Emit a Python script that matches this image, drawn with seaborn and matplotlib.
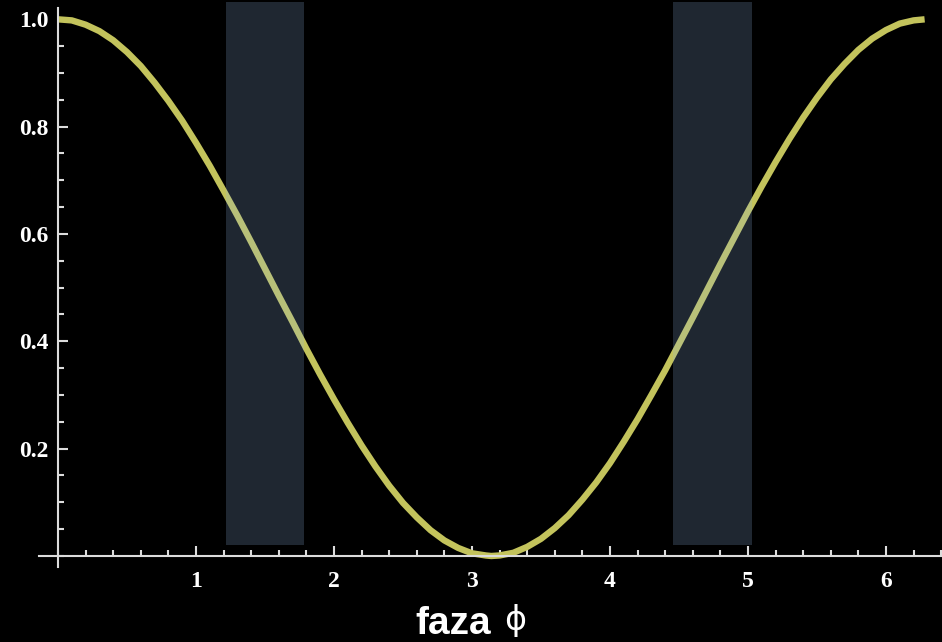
import numpy as np
import pandas as pd
import seaborn as sns
import matplotlib
matplotlib.use("Agg")
import matplotlib.pyplot as plt
from matplotlib.ticker import MultipleLocator, FixedLocator

# ---- data ----
phase = [0.0, 0.1, 0.2, 0.3, 0.4, 0.5, 0.6, 0.7, 0.8, 0.9, 1.0, 1.1, 1.2,
         1.3, 1.4, 1.5, 1.6, 1.7, 1.8, 1.9, 2.0, 2.1, 2.2, 2.3, 2.4, 2.5,
         2.6, 2.7, 2.8, 2.9, 3.0, 3.1, 3.14, 3.2, 3.3, 3.4, 3.5, 3.6, 3.7,
         3.8, 3.9, 4.0, 4.1, 4.2, 4.3, 4.4, 4.5, 4.6, 4.7, 4.8, 4.9, 5.0,
         5.1, 5.2, 5.3, 5.4, 5.5, 5.6, 5.7, 5.8, 5.9, 6.0, 6.1, 6.2, 6.28]
signal = [1.0, 0.998, 0.990, 0.978, 0.961, 0.939, 0.913, 0.882, 0.848,
          0.811, 0.770, 0.727, 0.681, 0.634, 0.585, 0.535, 0.485, 0.436,
          0.386, 0.338, 0.292, 0.248, 0.206, 0.167, 0.131, 0.099, 0.072,
          0.048, 0.029, 0.015, 0.005, 0.001, 0.0, 0.001, 0.006, 0.017,
          0.032, 0.052, 0.076, 0.105, 0.137, 0.173, 0.213, 0.255, 0.300,
          0.346, 0.395, 0.444, 0.494, 0.544, 0.593, 0.642, 0.689, 0.734,
          0.777, 0.817, 0.854, 0.888, 0.917, 0.943, 0.964, 0.980, 0.992,
          0.998, 1.0]
band_start = [1.22, 4.46]
band_end = [1.78, 5.03]
band_bottom = 0.02
band_top = 1.032
x_ticks = [1, 2, 3, 4, 5, 6]
x_tick_labels = ["1", "2", "3", "4", "5", "6"]
y_ticks = [0.2, 0.4, 0.6, 0.8, 1.0]
y_tick_labels = ["0.2", "0.4", "0.6", "0.8", "1.0"]

df = pd.DataFrame({"phase": phase, "signal": signal})

sns.set_style("dark")
W, H = 942, 642
fig = plt.figure(figsize=(W / 100, H / 100), dpi=100, facecolor="black")
ax = fig.add_axes([39 / W, (H - 567) / H, (W - 39) / W, 567 / H])
ax.set_facecolor("black")

line_col = "#c3c35c"
axis_col = "#dcdcdc"

sns.lineplot(data=df, x="phase", y="signal", ax=ax, color=line_col,
             linewidth=4.6, solid_capstyle="butt", solid_joinstyle="round",
             zorder=2)

for s, e in zip(band_start, band_end):
    ax.fill_between([s, e], [band_bottom, band_bottom], [band_top, band_top],
                    color="#91b6e3", alpha=0.22, linewidth=0, zorder=3)

ax.set_xlim(-0.1377, 6.406)
ax.set_ylim(-0.0205, 1.036)

for side in ["top", "right"]:
    ax.spines[side].set_visible(False)
ax.spines["left"].set_position(("data", 0))
ax.spines["bottom"].set_position(("data", 0))
ax.spines["left"].set_bounds(-0.0205, 1.021)
for side in ["left", "bottom"]:
    ax.spines[side].set_color(axis_col)
    ax.spines[side].set_linewidth(1.5)
    ax.spines[side].set_visible(True)

ax.xaxis.set_major_locator(FixedLocator(x_ticks))
ax.set_xticklabels(x_tick_labels)
ax.xaxis.set_minor_locator(MultipleLocator(0.2))
ax.yaxis.set_major_locator(FixedLocator(y_ticks))
ax.set_yticklabels(y_tick_labels)
ax.yaxis.set_minor_locator(MultipleLocator(0.05))

ax.tick_params(which="both", direction="in", color=axis_col, width=1.5,
               bottom=True, left=True)
ax.tick_params(which="major", length=7.5)
ax.tick_params(which="minor", length=4.3)
ax.tick_params(axis="x", which="major", pad=11)
ax.tick_params(axis="y", which="major", pad=7)
for lab in ax.get_xticklabels() + ax.get_yticklabels():
    lab.set_fontfamily(["Liberation Serif", "DejaVu Serif"])
    lab.set_fontweight("bold")
    lab.set_fontsize(17)
    lab.set_color("white")
ax.grid(False)
ax.set_xlabel("")
ax.set_ylabel("")

fig.text(415 / W, 8 / H, "faza", color="white", fontsize=28,
         fontweight="bold", family=["Liberation Sans", "DejaVu Sans"],
         ha="left", va="baseline")
fig.text(504 / W, 12 / H, "\u03d5", color="white", fontsize=24,
         family=["DejaVu Sans"], ha="left", va="baseline")

fig.savefig("out.png", dpi=100, facecolor="black")
